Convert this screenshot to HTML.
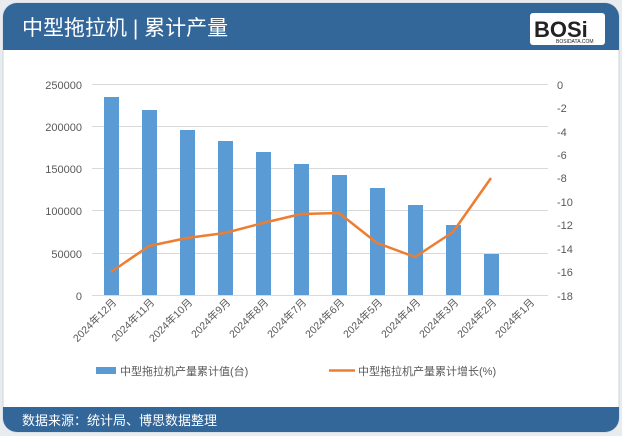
<!DOCTYPE html><html><head><meta charset="utf-8"><style>
body{margin:0;width:622px;height:436px;background:#e9ecef;font-family:"Liberation Sans","Noto Sans CJK SC",sans-serif;overflow:hidden}
</style></head><body>
<svg width="622" height="436" xmlns="http://www.w3.org/2000/svg" style="position:absolute;left:0;top:0">
<rect x="3" y="3" width="616" height="429" rx="14" fill="#fff" stroke="#c9d3de"/>
<path d="M3 50 V17 a14 14 0 0 1 14 -14 H605 a14 14 0 0 1 14 14 V50 Z" fill="#336699"/>
<text x="22" y="35" font-size="21" fill="#fff" font-family="Liberation Sans,Noto Sans CJK SC,sans-serif">中型拖拉机 | 累计产量</text>
<rect x="530" y="13" width="75" height="32" rx="3" fill="#fff"/>
<text x="534" y="37" font-size="22" font-weight="bold" fill="#222" font-family="Liberation Sans,sans-serif">BOSi</text>
<text x="556" y="43" font-size="5" fill="#222">BOSIDATA.COM</text>
<path d="M3 407 H619 V418 a14 14 0 0 1 -14 14 H17 a14 14 0 0 1 -14 -14 Z" fill="#336699"/>
<text x="22" y="425" font-size="13" fill="#fff">数据来源：统计局、博思数据整理</text>
<g stroke="#d9d9d9" stroke-width="1">
<line x1="92" y1="84.5" x2="548" y2="84.5"/><line x1="92" y1="126.5" x2="548" y2="126.5"/><line x1="92" y1="168.5" x2="548" y2="168.5"/><line x1="92" y1="210.5" x2="548" y2="210.5"/><line x1="92" y1="253.5" x2="548" y2="253.5"/><line x1="92" y1="295.5" x2="548" y2="295.5"/>
</g>
<g font-size="11" fill="#595959" text-anchor="end">
<text x="82" y="89">250000</text><text x="82" y="131">200000</text><text x="82" y="173">150000</text><text x="82" y="215">100000</text><text x="82" y="258">50000</text><text x="82" y="300">0</text>
</g>
<g font-size="11" fill="#595959">
<text x="557" y="89">0</text><text x="557" y="112">-2</text><text x="557" y="136">-4</text><text x="557" y="159">-6</text><text x="557" y="182">-8</text><text x="557" y="206">-10</text><text x="557" y="229">-12</text><text x="557" y="253">-14</text><text x="557" y="276">-16</text><text x="557" y="300">-18</text>
</g>
<g fill="#5b9bd5">
<rect x="104" y="97" width="15" height="198"/><rect x="142" y="110" width="15" height="185"/><rect x="180" y="130" width="15" height="165"/><rect x="218" y="141" width="15" height="154"/><rect x="256" y="152" width="15" height="143"/><rect x="294" y="164" width="15" height="131"/><rect x="332" y="175" width="15" height="120"/><rect x="370" y="188" width="15" height="107"/><rect x="408" y="205" width="15" height="90"/><rect x="446" y="225" width="15" height="70"/><rect x="484" y="254" width="15" height="41"/>
</g>
<polyline fill="none" stroke="#ed7d31" stroke-width="2.5" stroke-linejoin="round" points="111,272 149,246 187,238 225,233 263,223 301,214 339,213 377,243 415,257 453,232 491,178"/>
<g font-size="10.5" fill="#595959" text-anchor="end">
<text transform="translate(117,303) rotate(-45)">2024年12月</text>
<text transform="translate(155,303) rotate(-45)">2024年11月</text>
<text transform="translate(193,303) rotate(-45)">2024年10月</text>
<text transform="translate(231,303) rotate(-45)">2024年9月</text>
<text transform="translate(269,303) rotate(-45)">2024年8月</text>
<text transform="translate(307,303) rotate(-45)">2024年7月</text>
<text transform="translate(345,303) rotate(-45)">2024年6月</text>
<text transform="translate(383,303) rotate(-45)">2024年5月</text>
<text transform="translate(421,303) rotate(-45)">2024年4月</text>
<text transform="translate(459,303) rotate(-45)">2024年3月</text>
<text transform="translate(497,303) rotate(-45)">2024年2月</text>
<text transform="translate(535,303) rotate(-45)">2024年1月</text>
</g>
<rect x="96" y="367" width="20" height="7" fill="#5b9bd5"/>
<text x="120" y="375" font-size="11" fill="#595959">中型拖拉机产量累计值(台)</text>
<line x1="329" y1="370.5" x2="355" y2="370.5" stroke="#ed7d31" stroke-width="2.5"/>
<text x="358" y="375" font-size="11" fill="#595959">中型拖拉机产量累计增长(%)</text>
</svg>
</body></html>
